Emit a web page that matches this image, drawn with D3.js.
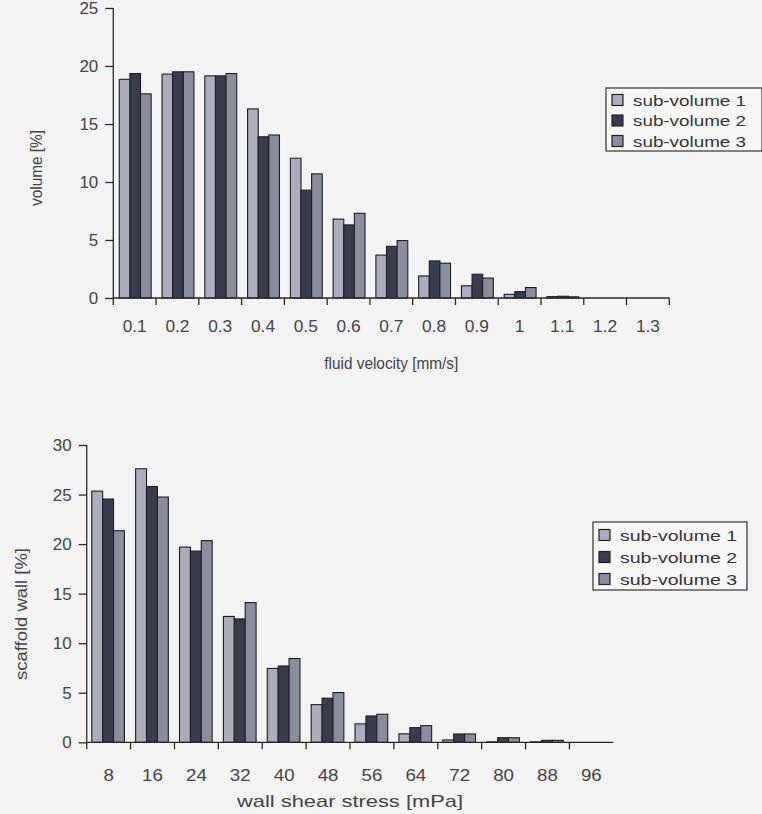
<!DOCTYPE html>
<html>
<head>
<meta charset="utf-8">
<script src="https://cdn.jsdelivr.net/npm/d3@7"></script>
<style>
  html, body { margin: 0; padding: 0; background: #f3f3f3; }
  svg { display: block; }
  text { font-family: "Liberation Sans", Arial, sans-serif; fill: #444; }
</style>
</head>
<body>
<svg id="chart" width="762" height="814"></svg>
<script>
// Series names shared by both panels
const seriesNames = ["sub-volume 1", "sub-volume 2", "sub-volume 3"];
const seriesColors = ["#abadbb", "#393d4b", "#8a8d9c"];

// Panel A: distribution of fluid velocity (% of volume)
const velocityBins = ["0.1", "0.2", "0.3", "0.4", "0.5", "0.6", "0.7", "0.8", "0.9", "1", "1.1", "1.2", "1.3"];
const velocitySub1 = [18.85, 19.3, 19.15, 16.3, 12.05, 6.8, 3.7, 1.9, 1.05, 0.32, 0.12, 0, 0];
const velocitySub2 = [19.35, 19.5, 19.15, 13.9, 9.3, 6.3, 4.45, 3.2, 2.05, 0.55, 0.15, 0, 0];
const velocitySub3 = [17.6, 19.5, 19.35, 14.05, 10.7, 7.3, 4.95, 3.0, 1.72, 0.9, 0.1, 0, 0];
const velocityTicks = [0, 5, 10, 15, 20, 25];

// Panel B: distribution of wall shear stress (% of scaffold wall)
const stressBins = ["8", "16", "24", "32", "40", "48", "56", "64", "72", "80", "88", "96"];
const stressSub1 = [25.35, 27.6, 19.7, 12.7, 7.45, 3.8, 1.86, 0.85, 0.24, 0.05, 0.05, 0];
const stressSub2 = [24.55, 25.8, 19.3, 12.45, 7.7, 4.45, 2.66, 1.48, 0.84, 0.46, 0.2, 0];
const stressSub3 = [21.35, 24.75, 20.35, 14.1, 8.45, 5.02, 2.83, 1.68, 0.84, 0.46, 0.2, 0];
const stressTicks = [0, 5, 10, 15, 20, 25, 30];

const svg = d3.select("#chart");

// Stretch a text element horizontally to a given rendered length
function fitLength(sel, len) {
  sel.attr("textLength", len).attr("lengthAdjust", "spacingAndGlyphs");
}

function drawPanel(cfg) {
  const g = svg.append("g");
  const x = d3.scaleBand().domain(cfg.bins).range([cfg.left, cfg.right]).padding(0);
  const bw = x.bandwidth();
  const x1 = d3.scaleBand().domain(seriesNames).range([cfg.groupStart * bw, cfg.groupEnd * bw]).padding(0);
  const y = d3.scaleLinear().domain([0, cfg.yMax]).range([cfg.base, cfg.top]);

  const rows = cfg.bins.map((b, i) => ({ bin: b, vals: cfg.series.map(s => s[i]) }));

  // bars
  const groups = g.selectAll("g.bin").data(rows).join("g")
    .attr("transform", d => `translate(${x(d.bin)},0)`);
  groups.selectAll("rect").data(d => d.vals.map((v, k) => ({ v, k })).filter(e => e.v > 0)).join("rect")
    .attr("x", e => x1(seriesNames[e.k]))
    .attr("width", x1.bandwidth())
    .attr("y", e => y(e.v))
    .attr("height", e => cfg.base - y(e.v))
    .attr("fill", e => seriesColors[e.k])
    .attr("stroke", "#1e1f26")
    .attr("stroke-width", 1.1);

  // y axis
  const yAxis = g.append("g").attr("transform", `translate(${cfg.left},0)`)
    .call(d3.axisLeft(y).tickValues(cfg.yTicks).tickSize(8).tickPadding(7).tickFormat(d3.format("d")));
  yAxis.select(".domain").attr("stroke", "#2a2a2a").attr("stroke-width", 1.3).attr("d", `M0,${cfg.base}V${cfg.top - cfg.axisOver}`);
  yAxis.selectAll(".tick line").attr("stroke", "#2a2a2a").attr("stroke-width", 1.3);
  yAxis.selectAll(".tick text").attr("fill", "#444").style("font-size", cfg.yFont + "px")
    .style("font-family", '"Liberation Sans", Arial, sans-serif');

  // x axis: ticks on category boundaries, labels in the middle
  const xa = g.append("g");
  xa.append("line").attr("x1", cfg.left).attr("x2", cfg.right).attr("y1", cfg.base).attr("y2", cfg.base)
    .attr("stroke", "#2a2a2a").attr("stroke-width", 1.3);
  const bounds = cfg.bins.map(b => x(b)).concat(cfg.endTick ? [cfg.right] : []);
  xa.selectAll("line.tk").data(bounds).join("line").attr("class", "tk")
    .attr("x1", d => d).attr("x2", d => d).attr("y1", cfg.base).attr("y2", cfg.base + 7)
    .attr("stroke", "#2a2a2a").attr("stroke-width", 1.3);
  xa.selectAll("text").data(cfg.bins).join("text")
    .attr("x", d => x(d) + bw / 2).attr("y", cfg.xLabelY)
    .attr("text-anchor", "middle").style("font-size", cfg.xFont + "px")
    .text(d => d)
    .each(function () { fitLength(d3.select(this), this.getComputedTextLength() * cfg.xStretch); });

  // axis titles
  const xt = g.append("text").attr("x", (cfg.left + cfg.right) / 2).attr("y", cfg.xTitleY)
    .attr("text-anchor", "middle").style("font-size", cfg.titleFont + "px").text(cfg.xTitle);
  fitLength(xt, cfg.xTitleLen);
  const yt = g.append("text").attr("transform", `translate(${cfg.yTitleX},${cfg.yTitleY}) rotate(-90)`)
    .attr("text-anchor", "middle").style("font-size", cfg.titleFont + "px").text(cfg.yTitle);
  fitLength(yt, cfg.yTitleLen);

  // legend
  const lg = g.append("g").attr("transform", `translate(${cfg.legendX},${cfg.legendY})`);
  lg.append("rect").attr("x", 0).attr("y", 0).attr("width", cfg.legendW).attr("height", cfg.legendH)
    .attr("fill", "#f7f7f7").attr("stroke", "#333").attr("stroke-width", 1.2);
  const item = lg.selectAll("g.it").data(seriesNames).join("g").attr("class", "it")
    .attr("transform", (d, i) => `translate(6,${cfg.legendRow0 + i * cfg.legendRowStep})`);
  item.append("rect").attr("x", 0).attr("y", -5.5).attr("width", 11).attr("height", 11)
    .attr("fill", (d, i) => seriesColors[i]).attr("stroke", "#222").attr("stroke-width", 1.2);
  item.append("text").attr("x", 21).attr("y", 5.5).style("font-size", "15px").style("fill", "#333")
    .text(d => d)
    .each(function () { fitLength(d3.select(this), cfg.legendTextLen); });
}

drawPanel({
  bins: velocityBins, series: [velocitySub1, velocitySub2, velocitySub3],
  left: 113.3, right: 669.3, base: 298, top: 8, yMax: 25, axisOver: 0,
  yTicks: velocityTicks, groupStart: 0.14, groupEnd: 0.885, endTick: true,
  yFont: 17, xFont: 16, xStretch: 1.08, xLabelY: 332,
  xTitle: "fluid velocity [mm/s]", xTitleY: 369, xTitleLen: 134, titleFont: 16,
  yTitle: "volume [%]", yTitleX: 42, yTitleY: 168, yTitleLen: 76,
  legendX: 606, legendY: 88, legendW: 156, legendH: 63, legendRow0: 12, legendRowStep: 20.5, legendTextLen: 113
});

drawPanel({
  bins: stressBins, series: [stressSub1, stressSub2, stressSub3],
  left: 86.7, right: 613.3, base: 742.3, top: 445, yMax: 30, axisOver: 0,
  yTicks: stressTicks, groupStart: 0.115, groupEnd: 0.86, endTick: false,
  yFont: 17, xFont: 17, xStretch: 1.1, xLabelY: 781,
  xTitle: "wall shear stress [mPa]", xTitleY: 807, xTitleLen: 226, titleFont: 17,
  yTitle: "scaffold wall [%]", yTitleX: 27, yTitleY: 614, yTitleLen: 132,
  legendX: 593, legendY: 522, legendW: 154, legendH: 68, legendRow0: 13, legendRowStep: 22, legendTextLen: 117
});
</script>
</body>
</html>
